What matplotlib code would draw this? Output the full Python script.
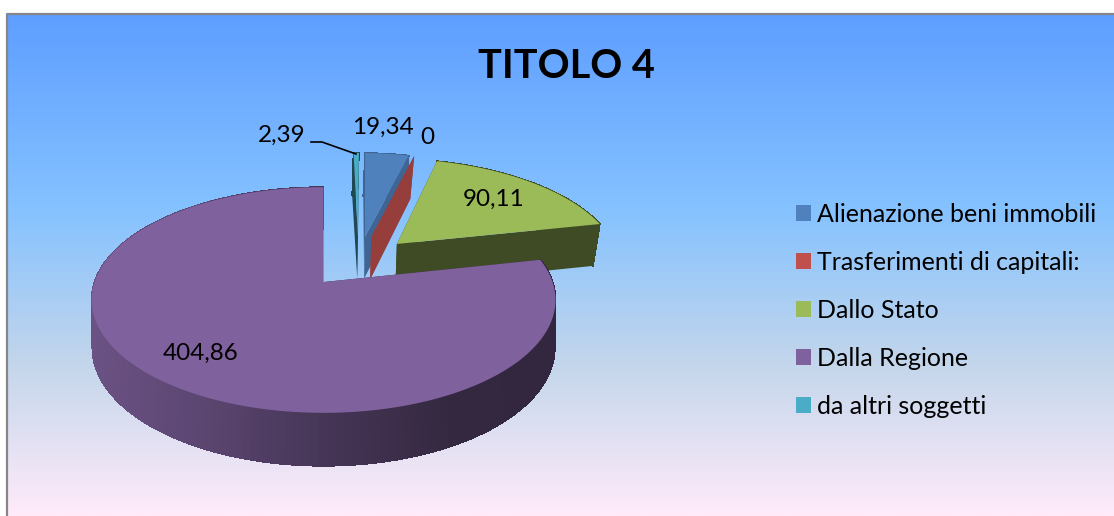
import numpy as np
import matplotlib
matplotlib.use("Agg")
import matplotlib.pyplot as plt
from matplotlib.colors import LinearSegmentedColormap, to_rgb
from matplotlib.patches import Patch, Polygon, Rectangle

# ========================
# Data
# ========================
categories = ["Alienazione beni immobili", "Trasferimenti di capitali:", "Dallo Stato",
              "Dalla Regione", "da altri soggetti"]
values = [19.34, 0, 90.11, 404.86, 2.39]
title = "TITOLO 4"

# ========================
# Style
# ========================
colors = ["#4F81BD", "#C0504D", "#9BBB59", "#7F619D", "#4BACC6"]
wall_shade = [0.78, 0.78, 0.40, 0.45, 0.42]
draw_order = [0, 4, 1, 2, 3]
label_xy = [(383, 127), (427, 137), (494, 199), (201, 353), (282, 135)]
plt.rcParams["font.family"] = ["Lato", "DejaVu Sans"]

W, H = 1114, 516
fig = plt.figure(figsize=(W / 100, H / 100), dpi=100, facecolor="white")
ax = fig.add_axes([0, 0, 1, 1])

# let pie work out the slice angles and the explosion, then draw them in perspective
wedges, _ = ax.pie(values, explode=[0.25] * len(values), startangle=88.33, counterclock=False)
slices = [(w.center, w.theta1, w.theta2) for w in wedges]
for w in wedges:
    w.remove()

ax.set_aspect("auto")
ax.set_xlim(0, W)
ax.set_ylim(H, 0)
ax.axis("off")

# ========================
# Background
# ========================
stops = [(0, "#5E9EFF"), (0.39, "#85C2FF"), (0.70, "#C4D6EB"), (1, "#FFEBFA")]
cmap = LinearSegmentedColormap.from_list("daybreak", stops)
ax.imshow(np.linspace(0, 1, 256)[:, None], cmap=cmap, extent=(6, W, H, 13), aspect="auto", zorder=0)
ax.set_xlim(0, W)
ax.set_ylim(H, 0)
ax.add_patch(Rectangle((6.5, 13.5), W + 20, H + 20, fill=False, ec="#868686", lw=1.6, zorder=1))


# ========================
# Projection of the pie plane to pixels
# ========================
def project(p, q, top=True):
    u = np.asarray(p) + 0.1575
    v = np.asarray(q) + 0.194
    if top:
        w = 1 + 0.159 * v
        return 323.5 + 229 * u / w, 282 - 110 * v / w
    w = 1 + 0.19 * v
    return 323.5 + 227 * u / w, 325 - 114 * v / w


def arc(center, t1, t2, n=160):
    t = np.radians(np.linspace(t1, t2, n))
    return center[0] + np.cos(t), center[1] + np.sin(t)


def radial_wall(center, theta):
    p, q = arc(center, theta, theta, 1)
    xa, ya = project(center[0], center[1])
    xr, yr = project(p[0], q[0])
    xb, yb = project(p[0], q[0], top=False)
    xc, yc = project(center[0], center[1], top=False)
    return [(xa, ya), (xr, yr), (xb, yb), (xc, yc)]


def shaded(color, f):
    return tuple(c * f for c in to_rgb(color))


z = 2
for i in draw_order:
    center, t1, t2 = slices[i]
    col = colors[i]
    wall_col = shaded(col, wall_shade[i])

    ax.add_patch(Polygon(radial_wall(center, t2), fc=wall_col, ec="none", zorder=z))
    z += 1

    if t2 - t1 > 0:
        # outer rim, shaded from left to right, no antialiasing so the quads don't show seams
        p, q = arc(center, t1, t2)
        xt, yt = project(p, q)
        xb, yb = project(p, q, top=False)
        for k in range(len(p) - 1):
            f = np.interp(xt[k], [95, 200, 320, 450, 555], [0.84, 0.72, 0.55, 0.41, 0.40])
            if i != 3:
                f = wall_shade[i]
            c = shaded(col, f)
            quad = [(xt[k], yt[k]), (xt[k + 1], yt[k + 1]), (xb[k + 1], yb[k + 1]), (xb[k], yb[k])]
            ax.add_patch(Polygon(quad, fc=c, ec=c, lw=0.5, antialiased=False, zorder=z))
        z += 1

    ax.add_patch(Polygon(radial_wall(center, t1), fc=wall_col, ec="none", zorder=z))
    z += 1

    if t2 - t1 > 0:
        xt, yt = project(p, q)
        xa, ya = project(center[0], center[1])
        face = [(xa, ya)] + list(zip(xt, yt))
        ax.add_patch(Polygon(face, fc=col, ec="none", zorder=z))
        z += 1

# ========================
# Labels, leader line, title, legend
# ========================
for v, (lx, ly) in zip(values, label_xy):
    ax.text(lx, ly, f"{v:g}".replace(".", ","), ha="center", va="center", fontsize=17.5,
            color="black", zorder=z)

ax.plot([311, 322, 356], [142, 142, 154], color="black", lw=1.2, zorder=z)

ax.text(566, 67, title, ha="center", va="center", fontsize=28.5, fontweight="bold",
        color="black", zorder=z)

handles = [Patch(facecolor=c, edgecolor="none", label=n) for c, n in zip(colors, categories)]
ax.legend(handles=handles, loc="upper left", bbox_to_anchor=(796 / W, 1 - 203 / H),
          bbox_transform=ax.transAxes, frameon=False, fontsize=18, handlelength=0.6,
          handleheight=0.6, handletextpad=0.25, labelspacing=1.0, borderpad=0, borderaxespad=0)

fig.savefig("out.png", dpi=100)
